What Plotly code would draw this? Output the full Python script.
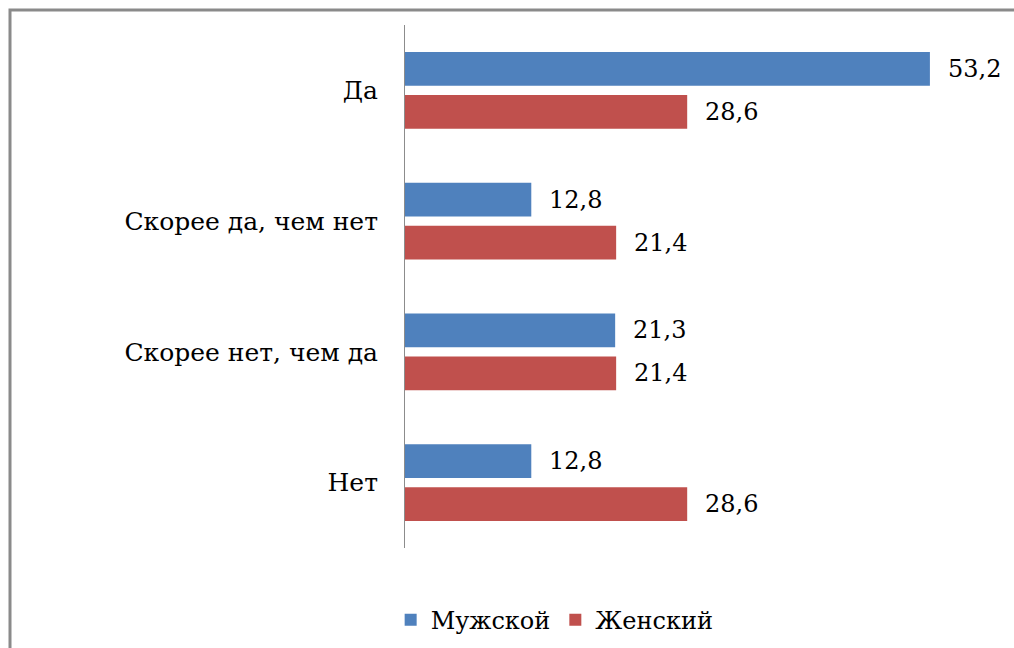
import plotly.graph_objects as go

categories = ["Да", "Скорее да, чем нет", "Скорее нет, чем да", "Нет"]
series_names = ["Мужской", "Женский"]
male = [53.2, 12.8, 21.3, 12.8]
female = [28.6, 21.4, 21.4, 28.6]
colors = ["#4F81BD", "#C0504D"]

FONT = "DejaVu Serif"

fig = go.Figure()
for name, vals, col in zip(series_names, [male, female], colors):
    fig.add_trace(go.Bar(
        y=categories, x=vals, name=name, orientation="h",
        marker=dict(color=col, line=dict(width=0)),
        hoverinfo="x+y",
    ))

annotations = []
offsets = [-21.5, 21.5]
for vals, off in zip([male, female], offsets):
    for cat, v in zip(categories, vals):
        annotations.append(dict(
            x=v, y=cat, xref="x", yref="y", text=f"{v:.1f}".replace(".", ","),
            showarrow=False, xanchor="left", yanchor="middle", xshift=16, yshift=-off,
            font=dict(family=FONT, size=24, color="black"),
        ))

fig.update_layout(
    width=1014, height=648,
    margin=dict(l=405, r=17, t=25, b=100),
    paper_bgcolor="white", plot_bgcolor="white",
    barmode="group", bargap=0.342, bargroupgap=0.21,
    font=dict(family=FONT, size=24, color="black"),
    showlegend=True,
    legend=dict(orientation="h", xref="container", yref="container",
                x=0.547, xanchor="center", y=0.043, yanchor="middle",
                font=dict(size=24, family=FONT), traceorder="normal"),
    xaxis=dict(range=[0, 60], visible=False, showgrid=False, zeroline=False),
    yaxis=dict(categoryorder="array", categoryarray=categories, autorange="reversed",
               showline=True, linecolor="#8c8c8c", linewidth=1, ticks="",
               showgrid=False, zeroline=False, ticklabelstandoff=21,
               tickfont=dict(size=25, family=FONT)),
    annotations=annotations,
    shapes=[dict(type="rect", xref="paper", yref="paper",
                 x0=(10 - 405) / 592, x1=(1030 - 405) / 592,
                 y0=(523 - (670 - 25)) / 523, y1=(548 - 10) / 523,
                 line=dict(color="#8a8a8a", width=3), fillcolor="rgba(0,0,0,0)", layer="below")],
)

fig.write_html("out.html")
